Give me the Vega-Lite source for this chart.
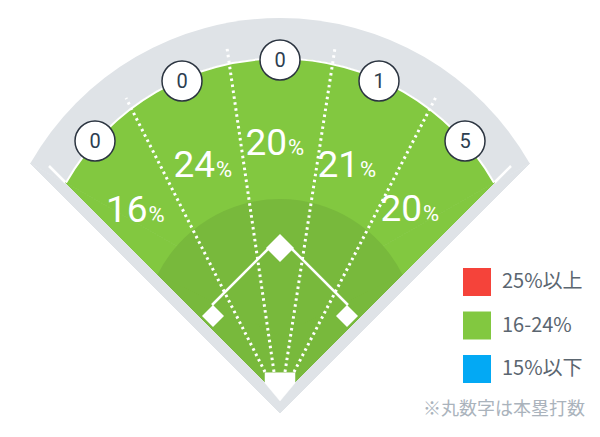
{
  "$schema": "https://vega.github.io/schema/vega-lite/v6.json",
  "width": 600,
  "height": 437,
  "autosize": {"type": "none"},
  "padding": 0,
  "background": "#ffffff",
  "config": {"view": {"stroke": null}},
  "datasets": {
    "arcs": [
      {"k": "grey", "x": 0, "y": 95, "t0": -60.43, "t1": 60.43, "r": 287},
      {"k": "green", "band": "16-24%", "x": 0, "y": 95, "t0": -60.27, "t1": 60.27, "r": 247},
      {"k": "dark", "x": 0, "y": 64, "t0": -63.35, "t1": 63.35, "r": 137},
      {"k": "fence", "x": 0, "y": 95, "t0": -60.27, "t1": 60.27, "r": 247.5, "r0": 245.5}
    ],
    "polys": [
      {"k": "grey", "i": 0, "x": -249.6, "y": 236.6},
      {"k": "grey", "i": 1, "x": 0, "y": 95},
      {"k": "grey", "i": 2, "x": 249.6, "y": 236.6},
      {"k": "grey", "i": 3, "x": 0, "y": -13},
      {"k": "green", "i": 0, "x": -214.5, "y": 217.5},
      {"k": "green", "i": 1, "x": 0, "y": 95},
      {"k": "green", "i": 2, "x": 214.5, "y": 217.5},
      {"k": "green", "i": 3, "x": 0, "y": 3},
      {"k": "dark", "i": 0, "x": -122.4, "y": 125.4},
      {"k": "dark", "i": 1, "x": 0, "y": 64},
      {"k": "dark", "i": 2, "x": 122.4, "y": 125.4},
      {"k": "dark", "i": 3, "x": 0, "y": 3},
      {"k": "plate", "i": 0, "x": -15, "y": 27.3},
      {"k": "plate", "i": 1, "x": 15, "y": 27.3},
      {"k": "plate", "i": 2, "x": 15, "y": 17},
      {"k": "plate", "i": 3, "x": 0, "y": -1},
      {"k": "plate", "i": 4, "x": -15, "y": 17}
    ],
    "segments": [
      {"k": "pole", "x": -214.5, "y": 217.5, "x2": -231, "y2": 234},
      {"k": "pole", "x": 214.5, "y": 217.5, "x2": 231, "y2": 234},
      {"k": "base", "x": -68, "y": 95, "x2": -10, "y2": 153},
      {"k": "base", "x": 10, "y": 153, "x2": 68, "y2": 95},
      {"k": "zone", "x": -15, "y": 28, "x2": -154, "y2": 302},
      {"k": "zone", "x": -6, "y": 28, "x2": -53, "y2": 352},
      {"k": "zone", "x": 5, "y": 28, "x2": 55, "y2": 352},
      {"k": "zone", "x": 14, "y": 28, "x2": 157, "y2": 305}
    ],
    "bases": [
      {"name": "2B", "x": 0, "y": 152, "s": 784},
      {"name": "3B", "x": -67, "y": 84, "s": 484},
      {"name": "1B", "x": 67, "y": 84, "s": 484}
    ],
    "pct": [
      {"n": "16", "x": -132.5, "y": 178},
      {"n": "24", "x": -65, "y": 223},
      {"n": "20", "x": 7, "y": 245},
      {"n": "21", "x": 79, "y": 223},
      {"n": "20", "x": 142, "y": 179}
    ],
    "hr": [
      {"n": "0", "x": -185, "y": 259},
      {"n": "0", "x": -98, "y": 319},
      {"n": "0", "x": 0, "y": 340},
      {"n": "1", "x": 99, "y": 319},
      {"n": "5", "x": 185, "y": 259}
    ],
    "note": [{"t": "※丸数字は本塁打数", "x": 305, "y": -10}]
  },
  "encoding": {
    "x": {"field": "x", "type": "quantitative", "scale": {"domain": [-280, 320], "nice": false, "zero": false}, "axis": null},
    "y": {"field": "y", "type": "quantitative", "scale": {"domain": [-37, 400], "nice": false, "zero": false}, "axis": null}
  },
  "layer": [
    {
      "data": {"name": "arcs"},
      "transform": [{"filter": "datum.k === 'grey'"}],
      "mark": {"type": "arc", "color": "#dfe3e7"},
      "encoding": {
        "theta": {"field": "t0", "type": "quantitative", "stack": null, "scale": {"domain": [-180, 180], "range": [-3.14159265, 3.14159265]}},
        "theta2": {"field": "t1"},
        "radius": {"field": "r", "type": "quantitative", "scale": {"type": "linear", "domain": [0, 600], "range": [0, 600], "zero": true}}
      }
    },
    {
      "data": {"name": "polys"},
      "transform": [{"filter": "datum.k === 'grey'"}],
      "mark": {"type": "line", "interpolate": "linear-closed", "fill": "#dfe3e7", "color": "#dfe3e7", "strokeWidth": 1},
      "encoding": {"order": {"field": "i", "type": "quantitative"}}
    },
    {
      "data": {"name": "segments"},
      "transform": [{"filter": "datum.k === 'pole'"}],
      "mark": {"type": "rule", "color": "#ffffff", "strokeWidth": 2.5},
      "encoding": {"x2": {"field": "x2"}, "y2": {"field": "y2"}}
    },
    {
      "data": {"name": "arcs"},
      "transform": [{"filter": "datum.k === 'green'"}],
      "mark": {"type": "arc", "opacity": 1},
      "encoding": {
        "theta": {"field": "t0", "type": "quantitative", "stack": null},
        "theta2": {"field": "t1"},
        "radius": {"field": "r", "type": "quantitative"},
        "color": {
          "field": "band",
          "type": "nominal",
          "scale": {"domain": ["25%以上", "16-24%", "15%以下"], "range": ["#f5433a", "#82c840", "#03a9f4"]},
          "legend": {
            "title": null,
            "orient": "none",
            "legendX": 463,
            "legendY": 268,
            "padding": 0,
            "symbolType": "square",
            "symbolSize": 784,
            "symbolStrokeWidth": 0,
            "symbolOpacity": 1,
            "labelFontSize": 20,
            "labelFont": "Noto Sans CJK JP",
            "labelColor": "#5b6670",
            "labelOffset": 11,
            "rowPadding": 15.5
          }
        }
      }
    },
    {
      "data": {"name": "polys"},
      "transform": [{"filter": "datum.k === 'green'"}],
      "mark": {"type": "line", "interpolate": "linear-closed", "fill": "#82c840", "color": "#82c840", "strokeWidth": 1},
      "encoding": {"order": {"field": "i", "type": "quantitative"}}
    },
    {
      "data": {"name": "arcs"},
      "transform": [{"filter": "datum.k === 'dark'"}],
      "mark": {"type": "arc", "color": "#78b93c"},
      "encoding": {
        "theta": {"field": "t0", "type": "quantitative", "stack": null},
        "theta2": {"field": "t1"},
        "radius": {"field": "r", "type": "quantitative"}
      }
    },
    {
      "data": {"name": "polys"},
      "transform": [{"filter": "datum.k === 'dark'"}],
      "mark": {"type": "line", "interpolate": "linear-closed", "fill": "#78b93c", "color": "#78b93c", "strokeWidth": 1},
      "encoding": {"order": {"field": "i", "type": "quantitative"}}
    },
    {
      "data": {"name": "arcs"},
      "transform": [{"filter": "datum.k === 'fence'"}],
      "mark": {"type": "arc", "color": "#ffffff"},
      "encoding": {
        "theta": {"field": "t0", "type": "quantitative", "stack": null},
        "theta2": {"field": "t1"},
        "radius": {"field": "r", "type": "quantitative"},
        "radius2": {"field": "r0"}
      }
    },
    {
      "data": {"name": "segments"},
      "transform": [{"filter": "datum.k === 'base'"}],
      "mark": {"type": "rule", "color": "#ffffff", "strokeWidth": 2.5},
      "encoding": {"x2": {"field": "x2"}, "y2": {"field": "y2"}}
    },
    {
      "data": {"name": "segments"},
      "transform": [{"filter": "datum.k === 'zone'"}],
      "mark": {"type": "rule", "color": "#ffffff", "strokeWidth": 3, "strokeDash": [2.5, 3.5]},
      "encoding": {"x2": {"field": "x2"}, "y2": {"field": "y2"}}
    },
    {
      "data": {"name": "bases"},
      "mark": {"type": "point", "shape": "diamond", "filled": true, "color": "#ffffff", "opacity": 1},
      "encoding": {"size": {"field": "s", "type": "quantitative", "scale": null}}
    },
    {
      "data": {"name": "polys"},
      "transform": [{"filter": "datum.k === 'plate'"}],
      "mark": {"type": "line", "interpolate": "linear-closed", "fill": "#ffffff", "color": "#ffffff", "strokeWidth": 0.5},
      "encoding": {"order": {"field": "i", "type": "quantitative"}}
    },
    {
      "data": {"name": "pct"},
      "mark": {"type": "text", "align": "right", "baseline": "alphabetic", "font": "Roboto", "fontSize": 37, "color": "#ffffff"},
      "encoding": {"text": {"field": "n"}}
    },
    {
      "data": {"name": "pct"},
      "mark": {"type": "text", "align": "left", "baseline": "alphabetic", "dx": 1, "font": "Roboto", "fontSize": 22, "color": "#ffffff"},
      "encoding": {"text": {"value": "%"}}
    },
    {
      "data": {"name": "hr"},
      "mark": {"type": "point", "shape": "circle", "filled": false, "fill": "#ffffff", "fillOpacity": 1, "stroke": "#2b3440", "strokeWidth": 1.5, "size": 1600, "opacity": 1}
    },
    {
      "data": {"name": "hr"},
      "mark": {"type": "text", "align": "center", "baseline": "middle", "dy": 1, "font": "Roboto", "fontSize": 20, "color": "#2c3e50"},
      "encoding": {"text": {"field": "n"}}
    },
    {
      "data": {"name": "note"},
      "mark": {"type": "text", "align": "right", "baseline": "middle", "font": "Noto Sans CJK JP", "fontSize": 18, "color": "#aab3bc"},
      "encoding": {"text": {"field": "t"}}
    }
  ]
}
